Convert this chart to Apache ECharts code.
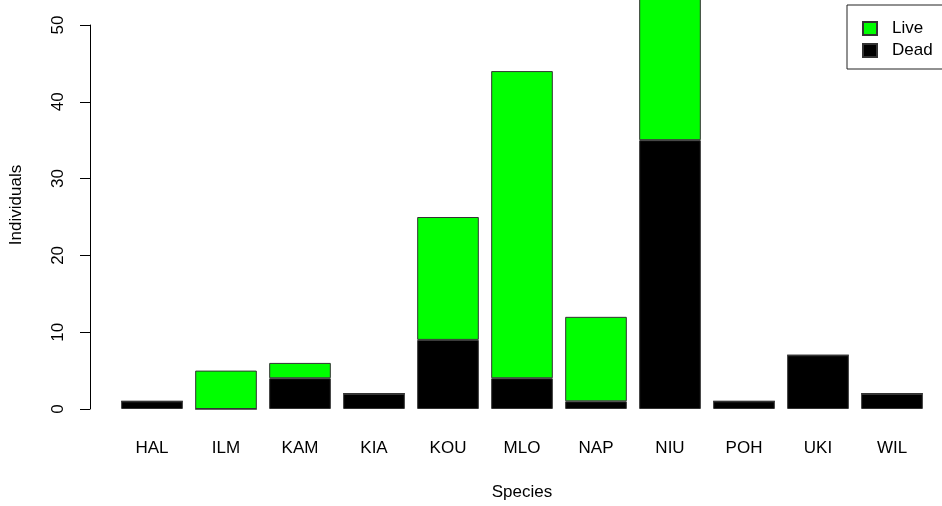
<!DOCTYPE html>
<html>
<head>
<meta charset="utf-8">
<script src="https://cdn.jsdelivr.net/npm/echarts@6/dist/echarts.min.js"></script>
<style>
  html, body { margin: 0; padding: 0; background: #fff; }
  #chart { width: 942px; height: 506px; }
</style>
</head>
<body>
<div id="chart"></div>
<script>
// Individuals per species, split into dead and live counts
const species = ['HAL', 'ILM', 'KAM', 'KIA', 'KOU', 'MLO', 'NAP', 'NIU', 'POH', 'UKI', 'WIL'];
const dead = [1, 0, 4, 2, 9, 4, 1, 35, 1, 7, 2];
const live = [0, 5, 2, 0, 16, 40, 11, 30, 0, 0, 0];
const yTicks = [0, 10, 20, 30, 40, 50];

const font = "'Liberation Sans', Arial, sans-serif";
const chart = echarts.init(document.getElementById('chart'), null, { renderer: 'canvas' });

chart.setOption({
  animation: false,
  backgroundColor: '#ffffff',
  textStyle: { fontFamily: font },
  grid: { left: 114, right: 13, top: 25, bottom: 96 },
  legend: {
    data: ['Live', 'Dead'],
    orient: 'vertical',
    left: 847,
    top: 5,
    padding: [15, 10, 10, 15],
    itemGap: 5,
    itemWidth: 14,
    itemHeight: 13,
    icon: 'rect',
    borderColor: '#222',
    borderWidth: 1,
    borderRadius: 0,
    textStyle: { fontFamily: font, fontSize: 17, color: '#000', lineHeight: 17, padding: [0, 0, 0, 10] }
  },
  xAxis: {
    type: 'category',
    data: species,
    name: 'Species',
    nameLocation: 'middle',
    nameGap: 75,
    nameTextStyle: { fontFamily: font, fontSize: 17, color: '#000' },
    axisLine: { show: false },
    axisTick: { show: false },
    axisLabel: { fontFamily: font, fontSize: 17, color: '#000', margin: 31 },
    splitLine: { show: false }
  },
  yAxis: {
    type: 'value',
    min: 0,
    max: 50,
    interval: 10,
    offset: 25,
    name: 'Individuals',
    nameLocation: 'middle',
    nameGap: 65,
    nameTextStyle: { fontFamily: font, fontSize: 17, color: '#000', padding: [0, 0, 0, 24] },
    axisLine: { show: true, lineStyle: { color: '#000', width: 1 } },
    axisTick: { show: true, length: 10, lineStyle: { color: '#000', width: 1 }, customValues: yTicks },
    axisLabel: { fontFamily: font, fontSize: 17, color: '#000', rotate: 90, margin: 23, customValues: yTicks },
    splitLine: { show: false }
  },
  series: [
    {
      name: 'Dead',
      type: 'bar',
      stack: 'total',
      data: dead,
      barCategoryGap: '16.7%',
      clip: false,
      itemStyle: { color: '#000000', borderColor: '#333', borderWidth: 1 }
    },
    {
      name: 'Live',
      type: 'bar',
      stack: 'total',
      data: live,
      clip: false,
      itemStyle: { color: '#00ff00', borderColor: '#333', borderWidth: 1 }
    }
  ]
});
</script>
</body>
</html>
